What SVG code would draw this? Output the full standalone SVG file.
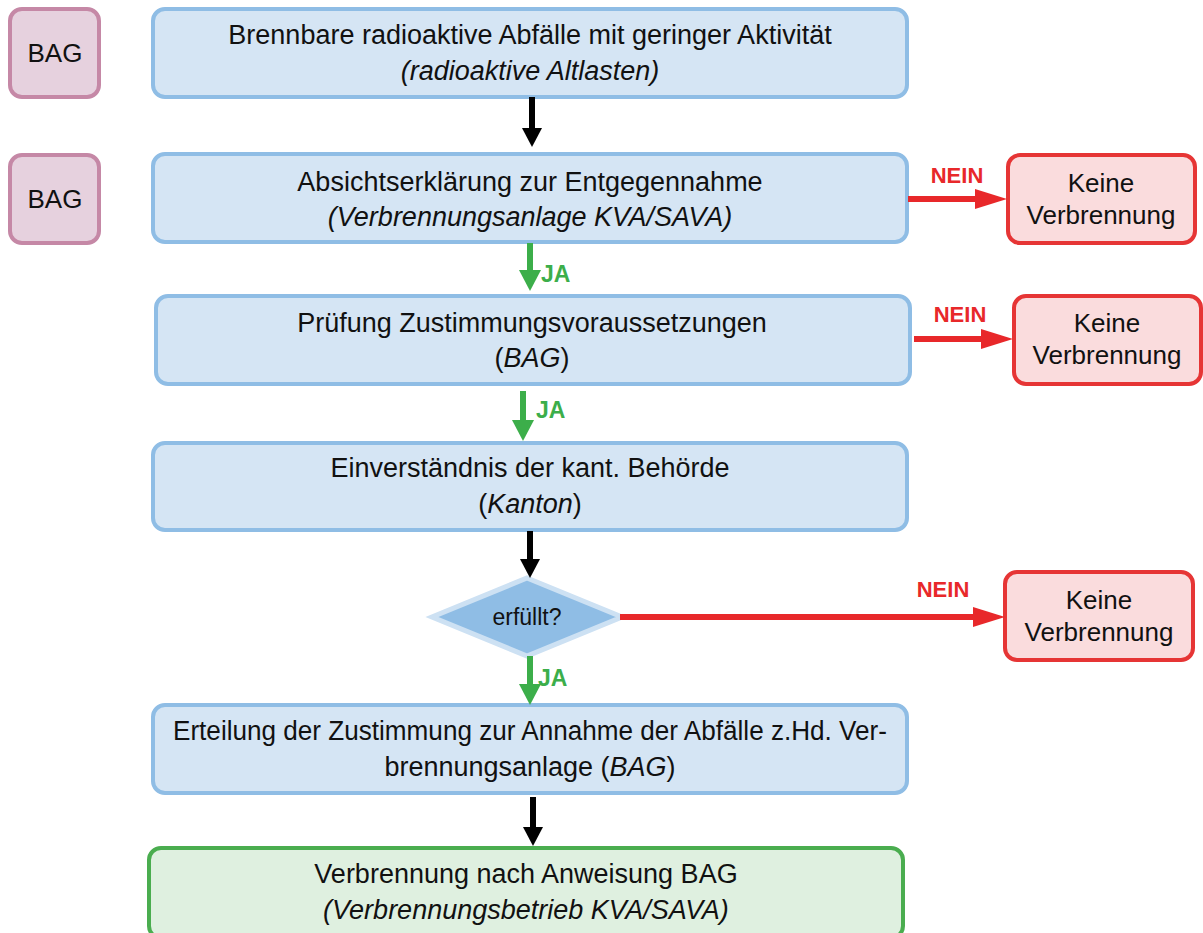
<svg xmlns="http://www.w3.org/2000/svg" width="1203" height="933" viewBox="0 0 1203 933">
<style>
text{font-family:"Liberation Sans",Arial,sans-serif;fill:#111;text-anchor:middle}
.t{font-size:26px}
.m{font-size:27px}
.i{font-style:italic}
.main{fill:#d5e5f4;stroke:#8fbde5;stroke-width:4}
.bag{fill:#e6d1de;stroke:#c588a6;stroke-width:4}
.no{fill:#fadcdd;stroke:#e63535;stroke-width:4}
.ok{fill:#dff0e0;stroke:#4aad4f;stroke-width:4}
.lblg{font-size:23px;font-weight:bold;fill:#3cae4a;text-anchor:start}
.lblr{font-size:22px;font-weight:bold;fill:#e8282a}
.ab{stroke:#000;stroke-width:6;fill:none}
.ag{stroke:#3cae4a;stroke-width:6;fill:none}
.ar{stroke:#e8282a;stroke-width:6;fill:none}
.hb{fill:#000}
.hg{fill:#3cae4a}
.hr{fill:#e8282a}
</style>
<rect width="1203" height="933" fill="#fff"/>

<g id="bag1"><rect class="bag" x="10" y="9" width="89" height="88" rx="12"/><text class="t" x="55" y="62">BAG</text></g>
<g id="bag2"><rect class="bag" x="10" y="155" width="89" height="88" rx="12"/><text class="t" x="55" y="208">BAG</text></g>

<g id="n1"><rect class="main" x="153" y="9" width="754" height="88" rx="12"/>
<text class="m" x="530" y="44">Brennbare radioaktive Abfälle mit geringer Aktivität</text>
<text class="m i" x="530" y="80">(radioaktive Altlasten)</text></g>

<g id="n2"><rect class="main" x="153" y="154" width="754" height="88" rx="12"/>
<text class="m" x="530" y="191">Absichtserklärung zur Entgegennahme</text>
<text class="m i" x="530" y="226">(Verbrennungsanlage KVA/SAVA)</text></g>

<g id="n3"><rect class="main" x="156" y="296" width="754" height="88" rx="12"/>
<text class="m" x="532" y="332">Prüfung Zustimmungsvoraussetzungen</text>
<text class="m" x="532" y="367">(<tspan class="i">BAG</tspan>)</text></g>

<g id="n4"><rect class="main" x="153" y="443" width="754" height="87" rx="12"/>
<text class="m" x="530" y="477">Einverständnis der kant. Behörde</text>
<text class="m" x="530" y="513">(<tspan class="i">Kanton</tspan>)</text></g>

<g id="d1"><polygon points="527,578 622,617 527,656 432,617" fill="#8fbde5" stroke="#cde1f3" stroke-width="5"/>
<text x="527" y="625" style="font-size:23px">erfüllt?</text></g>

<g id="n5"><rect class="main" x="153" y="705" width="754" height="88" rx="12"/>
<text class="m" x="530" y="740" textLength="714" lengthAdjust="spacingAndGlyphs">Erteilung der Zustimmung zur Annahme der Abfälle z.Hd. Ver-</text>
<text class="m" x="530" y="776">brennungsanlage (<tspan class="i">BAG</tspan>)</text></g>

<g id="n6"><rect class="ok" x="149" y="848" width="754" height="90" rx="12"/>
<text class="m" x="526" y="883">Verbrennung nach Anweisung BAG</text>
<text class="m i" x="526" y="919">(Verbrennungsbetrieb KVA/SAVA)</text></g>

<g id="k1"><rect class="no" x="1008" y="155" width="187" height="88" rx="12"/>
<text class="t" x="1101" y="192">Keine</text><text class="t" x="1101" y="224">Verbrennung</text></g>
<g id="k2"><rect class="no" x="1014" y="296" width="187" height="88" rx="12"/>
<text class="t" x="1107" y="332">Keine</text><text class="t" x="1107" y="364">Verbrennung</text></g>
<g id="k3"><rect class="no" x="1005" y="572" width="188" height="88" rx="12"/>
<text class="t" x="1099" y="609">Keine</text><text class="t" x="1099" y="641">Verbrennung</text></g>

<g id="connectors">
<line class="ab" x1="532" y1="97" x2="532" y2="130"/><polygon class="hb" points="522,128 542,128 532,147"/>
<line class="ag" x1="530" y1="243" x2="530" y2="272"/><polygon class="hg" points="519,270 541,270 530,291"/>
<line class="ag" x1="523" y1="391" x2="523" y2="422"/><polygon class="hg" points="512,420 534,420 523,441"/>
<line class="ab" x1="530" y1="531" x2="530" y2="561"/><polygon class="hb" points="520,559 540,559 530,578"/>
<line class="ag" x1="530" y1="656" x2="530" y2="686"/><polygon class="hg" points="519,684 541,684 530,705"/>
<line class="ab" x1="533" y1="797" x2="533" y2="829"/><polygon class="hb" points="523,827 543,827 533,846"/>
<line class="ar" x1="908" y1="199" x2="977" y2="199"/><polygon class="hr" points="975,189 975,209 1007,199"/>
<line class="ar" x1="914" y1="339" x2="983" y2="339"/><polygon class="hr" points="981,329 981,349 1013,339"/>
<line class="ar" x1="620" y1="617" x2="975" y2="617"/><polygon class="hr" points="973,607 973,627 1005,617"/>
<text class="lblg" x="541" y="282">JA</text>
<text class="lblg" x="536" y="418">JA</text>
<text class="lblg" x="538" y="686">JA</text>
<text class="lblr" x="957" y="183">NEIN</text>
<text class="lblr" x="960" y="322">NEIN</text>
<text class="lblr" x="943" y="597">NEIN</text>
</g>
</svg>
